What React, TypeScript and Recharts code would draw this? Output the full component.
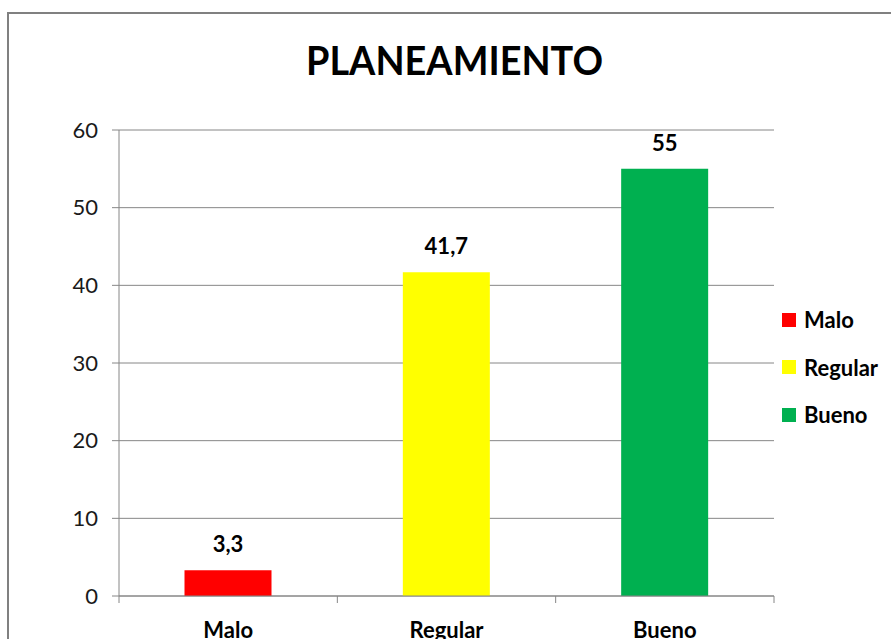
import React from 'react';
import { BarChart, Bar, XAxis, YAxis, CartesianGrid, Cell, LabelList } from 'recharts';

const categories = ['Malo', 'Regular', 'Bueno'];
const values = [3.3, 41.7, 55];
const barColors = ['#FF0000', '#FFFF00', '#00B050'];
const yTicks = [0, 10, 20, 30, 40, 50, 60];
const title = 'PLANEAMIENTO';

const data = categories.map((name, i) => ({ name, value: values[i] }));

const FONT = 'Lato, "Open Sans", sans-serif';
const GRID = '#868686';

const fmt = (v: any) => String(v).replace('.', ',');

// Excel-style category axis: label in the middle, tick marks on the band edges
const CategoryTick = (props: any) => {
  const { x, y, payload, index, visibleTicksCount, width } = props;
  const band = (width || 655) / (visibleTicksCount || 3);
  return (
    <g>
      {index === 0 && <line x1={x - band / 2} y1={y} x2={x - band / 2} y2={y + 7} stroke={GRID} />}
      <line x1={x + band / 2} y1={y} x2={x + band / 2} y2={y + 7} stroke={GRID} />
      <text x={x} y={y + 42} textAnchor="middle" fontFamily={FONT} fontWeight={700} fontSize={22} fill="#000">
        {payload.value}
      </text>
    </g>
  );
};

const Legend = () => (
  <div style={{ position: 'absolute', left: 782, top: 296, fontFamily: FONT, fontWeight: 700, fontSize: 22 }}>
    {categories.map((c, i) => (
      <div key={c} style={{ display: 'flex', alignItems: 'center', height: 47.5 }}>
        <span style={{ width: 14, height: 14, background: barColors[i], marginRight: 8, display: 'inline-block' }} />
        <span>{c}</span>
      </div>
    ))}
  </div>
);

export default function App() {
  return (
    <div style={{ position: 'absolute', left: 0, top: 0, width: 891, height: 639, overflow: 'hidden', background: '#fff' }}>
      <div style={{ position: 'absolute', left: 7, top: 12, width: 950, height: 700, border: '2px solid #808080' }} />
      <svg width={891} height={100} style={{ position: 'absolute', left: 0, top: 0 }}>
        <text x={454.5} y={75} textAnchor="middle" fontFamily={FONT} fontWeight={700} fontSize={40}
          textLength={297} lengthAdjust="spacingAndGlyphs" fill="#000">
          {title}
        </text>
      </svg>
      <div style={{ position: 'absolute', left: 0, top: 0 }}>
        <BarChart width={891} height={639} data={data} margin={{ top: 130, right: 117, bottom: 0, left: 0 }}
          barCategoryGap="30%">
          <CartesianGrid vertical={false} stroke={GRID} />
          <XAxis dataKey="name" height={43} tickLine={false} tickSize={0} tickMargin={0}
            axisLine={{ stroke: GRID }} tick={<CategoryTick />} interval={0} />
          <YAxis width={119} domain={[0, 60]} ticks={yTicks} interval={0} tickSize={7} tickMargin={14}
            axisLine={{ stroke: GRID }} tickLine={{ stroke: GRID }}
            tick={{ fontFamily: FONT, fontSize: 22, fill: '#1a1a1a' }} />
          <Bar dataKey="value" isAnimationActive={false}>
            {data.map((d, i) => (
              <Cell key={d.name} fill={barColors[i]} />
            ))}
            <LabelList dataKey="value" position="top" offset={18} formatter={fmt}
              style={{ fontFamily: FONT, fontWeight: 700, fontSize: 22, fill: '#000' }} />
          </Bar>
        </BarChart>
      </div>
      <Legend />
    </div>
  );
}
